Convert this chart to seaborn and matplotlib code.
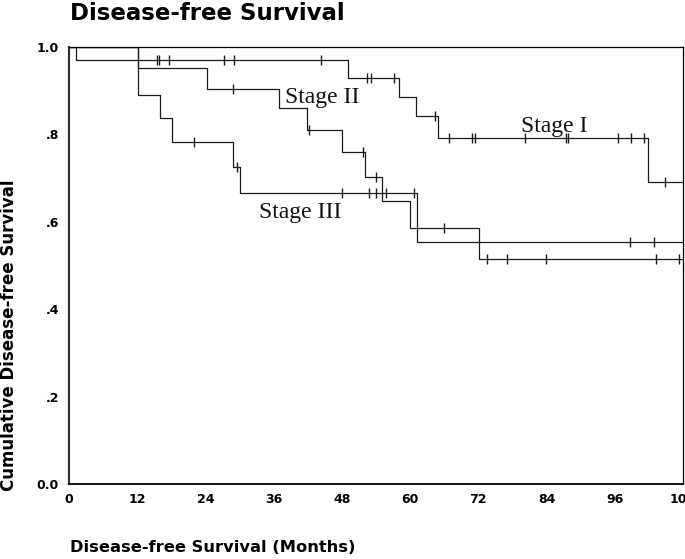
import numpy as np
import pandas as pd
import matplotlib
matplotlib.use("Agg")
import matplotlib.pyplot as plt
import seaborn as sns

# -----------------------------
# Dati
# -----------------------------
stages = ["Stage I", "Stage II", "Stage III"]

# tempi dei gradini (mesi) e sopravvivenza dopo ogni gradino
stage1_time = [0, 1.2, 49.1, 58.1, 61.0, 64.9, 101.9, 108]
stage1_surv = [1.0, 0.970, 0.930, 0.885, 0.842, 0.791, 0.692, 0.692]
stage1_censor = [15.4, 15.8, 17.6, 27.3, 29.0, 44.4, 52.4, 53.2, 57.2, 64.4,
                 66.9, 70.9, 71.4, 80.2, 87.4, 87.8, 96.6, 98.9, 101.2, 104.8]

stage2_time = [0, 12.1, 24.2, 37.0, 41.9, 48.0, 52.1, 55.1, 60.0, 72.1, 108]
stage2_surv = [1.0, 0.951, 0.905, 0.860, 0.810, 0.759, 0.702, 0.648, 0.585, 0.516, 0.516]
stage2_censor = [28.8, 42.2, 51.8, 54.0, 66.0, 73.6, 77.0, 83.9, 103.3, 107.3]

stage3_time = [0, 12.1, 16.0, 18.2, 28.9, 30.1, 61.2, 108]
stage3_surv = [1.0, 0.890, 0.838, 0.783, 0.726, 0.667, 0.553, 0.553]
stage3_censor = [22.0, 29.5, 48.0, 52.8, 54.0, 55.8, 60.7, 98.6, 102.9]

x_ticks = [0, 12, 24, 36, 48, 60, 72, 84, 96, 108]
y_ticks = [0.0, 0.2, 0.4, 0.6, 0.8, 1.0]
y_ticklabels = ["0.0", ".2", ".4", ".6", ".8", "1.0"]

# posizione etichette delle curve (mesi, sopravvivenza)
label_x = [79.5, 38.0, 33.5]
label_y = [0.806, 0.871, 0.608]

# -----------------------------
# Tabelle per seaborn
# -----------------------------
curves = pd.concat([
    pd.DataFrame({"month": stage1_time, "surv": stage1_surv, "stage": "Stage I"}),
    pd.DataFrame({"month": stage2_time, "surv": stage2_surv, "stage": "Stage II"}),
    pd.DataFrame({"month": stage3_time, "surv": stage3_surv, "stage": "Stage III"}),
], ignore_index=True)


def step_value(times, survs, t):
    idx = np.searchsorted(times, t, side="right") - 1
    return np.asarray(survs)[idx]


censored = pd.concat([
    pd.DataFrame({"month": stage1_censor,
                  "surv": step_value(stage1_time, stage1_surv, stage1_censor)}),
    pd.DataFrame({"month": stage2_censor,
                  "surv": step_value(stage2_time, stage2_surv, stage2_censor)}),
    pd.DataFrame({"month": stage3_censor,
                  "surv": step_value(stage3_time, stage3_surv, stage3_censor)}),
], ignore_index=True)

# -----------------------------
# Grafico
# -----------------------------
sns.set_style("white")
plt.rcParams["font.family"] = ["DejaVu Sans"]
plt.rcParams["axes.edgecolor"] = "black"
plt.rcParams["text.color"] = "black"
plt.rcParams["xtick.labelcolor"] = "black"
plt.rcParams["ytick.labelcolor"] = "black"

fig = plt.figure(figsize=(6.85, 5.59), dpi=100)
ax = fig.add_axes([69 / 685, 1 - 484 / 559, 614 / 685, 437 / 559])

line_col = "#1a1a1a"
sns.lineplot(data=curves, x="month", y="surv", hue="stage",
             palette={s: line_col for s in stages}, drawstyle="steps-post",
             estimator=None, sort=False, legend=False, linewidth=0.9, ax=ax)
sns.scatterplot(data=censored, x="month", y="surv", marker="|", s=52,
                color=line_col, linewidth=1.0, legend=False, ax=ax)

for name, lx, ly in zip(stages, label_x, label_y):
    ax.text(lx, ly, name, family="Liberation Serif", fontsize=17,
            color="#111111", va="baseline", ha="left")

ax.set_xlim(0, 108)
ax.set_ylim(0, 1.0)
ax.set_xticks(x_ticks)
ax.set_xticklabels([str(v) for v in x_ticks])
ax.set_yticks(y_ticks)
ax.set_yticklabels(y_ticklabels)
ax.tick_params(axis="both", direction="out", length=3.2, width=3.8,
               color="black", labelcolor="black", labelsize=9)
ax.tick_params(axis="x", pad=3)
ax.tick_params(axis="y", pad=4)
for lab in ax.get_xticklabels() + ax.get_yticklabels():
    lab.set_fontweight("bold")
ax.set_xlabel("")
ax.set_ylabel("")

ax.spines["left"].set_linewidth(1.6)
ax.spines["left"].set_color("#333333")
ax.spines["bottom"].set_linewidth(1.3)
ax.spines["top"].set_linewidth(0.9)
ax.spines["right"].set_linewidth(0.9)

fig.text(70 / 685, 1 - 13 / 559, "Disease-free Survival", fontsize=16.5,
         fontweight="bold", ha="left", va="center", color="black")
fig.text(70 / 685, 1 - 548 / 559, "Disease-free Survival (Months)",
         fontsize=11.7, fontweight="bold", ha="left", va="center", color="black")
fig.text(9 / 685, 1 - 335 / 559, "Cumulative Disease-free Survival",
         fontsize=12, fontweight="bold", rotation=90, ha="center", va="center",
         color="black")

fig.savefig("out.png", dpi=100)
plt.close(fig)
